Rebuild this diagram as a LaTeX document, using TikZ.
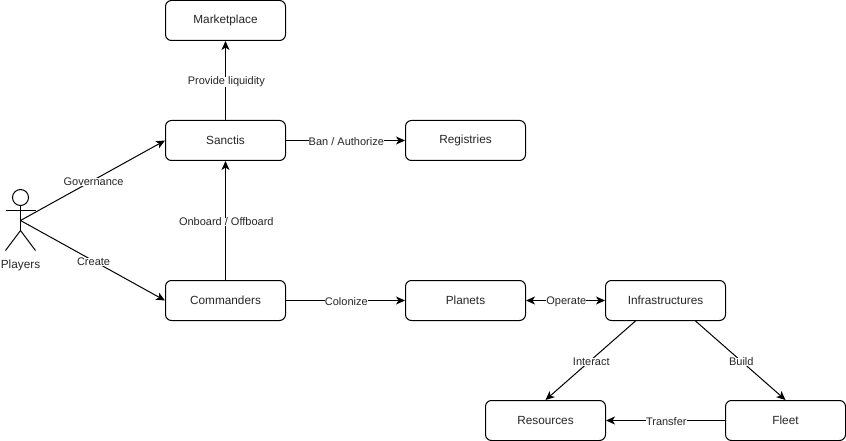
\documentclass[tikz,border=0pt]{standalone}
\usepackage{fontspec}
\setmainfont{Liberation Sans}
\usetikzlibrary{arrows.meta,calc}
\tikzset{
  x=1pt,y=-1pt,
  box/.style={draw=black,line width=1pt,rounded corners=6pt,minimum width=120pt,minimum height=40pt,inner sep=0pt,font=\fontsize{11.8}{14}\selectfont,text=black!85,fill=white},
  conn/.style={draw=black,line width=1pt,-{Stealth[length=9pt,width=8pt,inset=2.5pt]}},
  both/.style={draw=black,line width=1pt,{Stealth[length=9pt,width=8pt,inset=2.5pt]}-{Stealth[length=9pt,width=8pt,inset=2.5pt]}},
  lab/.style={fill=white,inner sep=0pt,outer sep=0pt,yshift=-1.2pt,xshift=0.8pt,font=\fontsize{11}{13}\selectfont,text=black!85},
  actor/.style={draw=black,line width=1pt}
}
\begin{document}
\begin{tikzpicture}
\useasboundingbox (0,0) rectangle (846,441);
\node[box] (market) at (225.5,20.5) {Marketplace};
\node[box] (sanctis) at (225.5,140.5) {Sanctis};
\node[box] (registries) at (465.5,140.5) {Registries};
\node[box] (commanders) at (225.5,300.5) {Commanders};
\node[box] (planets) at (465.5,300.5) {Planets};
\node[box] (infra) at (665.5,300.5) {Infrastructures};
\node[box] (resources) at (545.5,420.5) {Resources};
\node[box] (fleet) at (785.5,420.5) {Fleet};
% actor
\coordinate (hip) at (20.5,220.5);
\draw[actor] (20.5,197.5) circle (8);
\draw[actor] (20.5,205.5) -- (20.5,230.5);
\draw[actor] (5.5,210.5) -- (35.5,210.5);
\draw[actor] (5.5,250.5) -- (20.5,230.5) -- (35.5,250.5);
\node[font=\fontsize{11.8}{14}\selectfont,text=black!85,inner sep=0pt] (players) at (20.5,265) {Players};
% connectors
\draw[conn] (hip) -- node[lab,pos=0.5] (l1) {Governance} (sanctis.west);
\draw[conn] (hip) -- node[lab,pos=0.5] (l2) {Create} (commanders.west);
\draw[conn] (sanctis.north) -- node[lab,pos=0.5] {Provide liquidity} (market.south);
\draw[conn] (sanctis.east) -- node[lab,pos=0.5] {Ban / Authorize} (registries.west);
\draw[conn] (commanders.north) -- node[lab,pos=0.5] {Onboard / Offboard} (sanctis.south);
\draw[conn] (commanders.east) -- node[lab,pos=0.5] {Colonize} (planets.west);
\draw[both] (planets.east) -- node[lab,pos=0.5] {Operate} (infra.west);
\draw[conn] ($(infra.south)+(-30,0)$) -- node[lab,pos=0.5] {Interact} (resources.north);
\draw[conn] ($(infra.south)+(30,0)$) -- node[lab,pos=0.5] {Build} (fleet.north);
\draw[conn] (fleet.west) -- node[lab,pos=0.5] {Transfer} (resources.east);
\end{tikzpicture}
\end{document}
